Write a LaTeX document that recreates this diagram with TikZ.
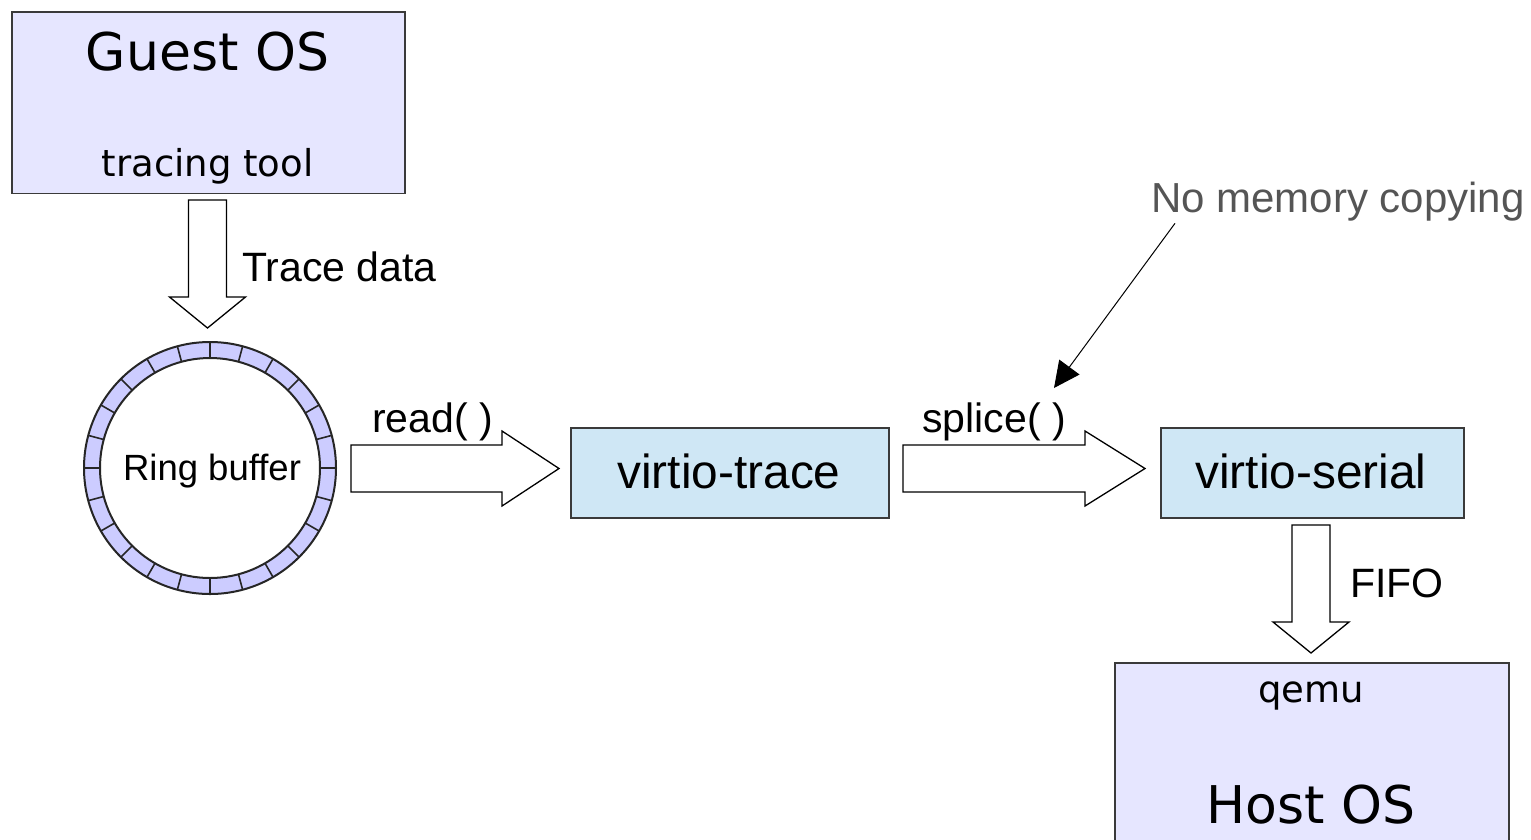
\documentclass[tikz,border=0pt]{standalone}
\usepackage{fontspec}
\setmainfont{Liberation Sans}
\newfontfamily\dejavu{DejaVu Sans}
\usetikzlibrary{arrows.meta}
\definecolor{osfill}{HTML}{E6E6FF}
\definecolor{vfill}{HTML}{CFE7F5}
\definecolor{ringfill}{HTML}{CCCCFF}
\definecolor{notegray}{HTML}{555555}
\definecolor{boxline}{HTML}{3A3A3A}

\begin{document}
\begin{tikzpicture}[x=1pt,y=-1pt,
  osbox/.style={draw=boxline, line width=1.7pt, fill=osfill, anchor=north west, inner sep=0pt},
  vbox/.style={draw=boxline, line width=1.7pt, fill=vfill, anchor=north west, inner sep=0pt},
  blockarrow/.style={draw=black, line width=1.3pt, fill=white, line join=miter},
  bigos/.style={font=\dejavu\fontsize{52}{60}\selectfont, anchor=base, inner sep=0pt},
  smallos/.style={font=\dejavu\fontsize{37}{44}\selectfont, anchor=base, inner sep=0pt},
  lbl/.style={font=\fontsize{41}{48}\selectfont, anchor=base west, inner sep=0pt},
  vtext/.style={font=\fontsize{47.8}{56}\selectfont, anchor=base, inner sep=0pt}]
\useasboundingbox (0,0) rectangle (1531,839);
\clip (0,0) rectangle (1531,839);

% Guest OS box
\node[osbox, minimum width=393pt, minimum height=181.5pt] (guest) at (11,11) {};
\node[bigos] (guesttitle) at (207.5,70) {Guest OS};
\node[smallos] (tool) at (207.5,176.5) {tracing tool};

% Trace data block arrow
\draw[blockarrow] (188.5,200) -- (226.5,200) -- (226.5,297) -- (245.5,297)
  -- (207.5,328) -- (169.5,297) -- (188.5,297) -- cycle;
\node[lbl] (tracedata) at (242,281.5) {Trace data};

% Ring buffer
\coordinate (rc) at (210,468);
\fill[ringfill, even odd rule] (rc) circle[radius=126] (rc) circle[radius=110];
\foreach \a in {0,15,...,345}
  \draw[line width=1.6pt, black!85] (rc) ++(\a:110) -- ++(\a:16);
\draw[line width=2pt, black!85] (rc) circle[radius=126] (rc) circle[radius=110];
\node[font=\fontsize{36.5}{44}\selectfont, anchor=base, inner sep=0pt] (ring) at (212,480.5) {Ring buffer};

% read( ) block arrow
\draw[blockarrow] (351,445) -- (502,445) -- (502,431) -- (559,468.5)
  -- (502,506) -- (502,492) -- (351,492) -- cycle;
\node[lbl] (readlbl) at (372,432) {read( )};

% virtio-trace box
\node[vbox, minimum width=318pt, minimum height=90pt] (vtrace) at (570,427) {};
\node[vtext] (vtracetxt) at (729,488.5) {virtio-trace};

% splice( ) block arrow
\draw[blockarrow] (903,445) -- (1085,445) -- (1085,431) -- (1145,468.5)
  -- (1085,506) -- (1085,492) -- (903,492) -- cycle;
\node[lbl] (splicelbl) at (922,432) {splice( )};

% virtio-serial box
\node[vbox, minimum width=303pt, minimum height=90pt] (vserial) at (1160,427) {};
\node[vtext] (vserialtxt) at (1311,488.5) {virtio-serial};

% FIFO block arrow
\draw[blockarrow] (1292,525) -- (1330,525) -- (1330,622) -- (1349,622)
  -- (1311,653) -- (1273,622) -- (1292,622) -- cycle;
\node[lbl] (fifo) at (1350,597) {FIFO};

% Host OS box (runs past the lower edge)
\node[osbox, minimum width=394pt, minimum height=200pt] (host) at (1114,662) {};
\node[smallos] (qemu) at (1311,702.5) {qemu};
\node[bigos] (hosttitle) at (1311,823) {Host OS};

% Note with pointer
\node[anchor=base west, inner sep=0pt, text=notegray,
  font=\fontsize{42}{50}\selectfont] (note) at (1151,212.3) {No memory copying};
\coordinate (notefoot) at ([xshift=24pt,yshift=-11pt]note.base west);
\coordinate (tip) at (1054,388);
\draw[line width=1pt, -{Triangle[length=26pt,width=25pt]}] (notefoot) -- (tip);
\end{tikzpicture}
\end{document}
